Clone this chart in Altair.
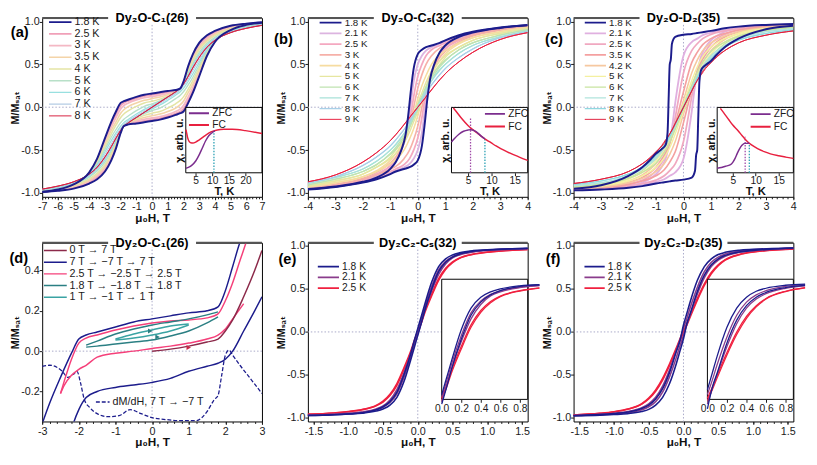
import altair as alt
import pandas as pd

FONT = "Liberation Sans, Arial, DejaVu Sans"
NAVY = "#1c1c8c"
RED = "#e8203f"
PURPLE = "#7b2d8e"
TEAL = "#2aa0b4"
ZC = "#a8a8c8"
W, H = 225, 183
K = H / 186.0

# ---------------- (a) Dy2O-C1(26): descending branches ----------------
A_H = [-7, -6, -5, -4, -3.5, -3, -2.6, -2.3, -2, -1.8, -1.5, -1, -0.5, 0, 0.5, 1, 1.5, 1.8, 2, 2.3, 2.6, 3, 3.5, 4, 5, 6, 7]
A_T = ["1.8 K", "2.5 K", "3 K", "3.5 K", "4 K", "5 K", "6 K", "7 K", "8 K"]
A_COL = [NAVY, "#f0a0b8", "#f4b8c4", "#f4d4a8", "#e4e4a4", "#b8e0c8", "#98e0e0", "#b4cce4", "#d82040"]
A_WID = [2, 1, 1, 1, 1, 1, 1, 1, 2]
A_D = {
    "1.8 K": [-0.985, -0.96, -0.9, -0.76, -0.6, -0.36, -0.17, -0.05, 0.05, 0.07, 0.09, 0.12, 0.145, 0.16, 0.175, 0.19, 0.2, 0.22, 0.3, 0.48, 0.62, 0.75, 0.84, 0.89, 0.95, 0.975, 0.99],
    "2.5 K": [-0.98, -0.955, -0.9, -0.765, -0.61, -0.38, -0.2, -0.08, 0.02, 0.05, 0.075, 0.105, 0.13, 0.145, 0.16, 0.175, 0.19, 0.215, 0.29, 0.46, 0.6, 0.73, 0.82, 0.875, 0.94, 0.97, 0.985],
    "3 K": [-0.975, -0.95, -0.895, -0.765, -0.62, -0.4, -0.23, -0.12, -0.02, 0.02, 0.05, 0.085, 0.11, 0.125, 0.14, 0.16, 0.185, 0.21, 0.285, 0.44, 0.58, 0.71, 0.8, 0.86, 0.93, 0.965, 0.98],
    "3.5 K": [-0.97, -0.945, -0.89, -0.77, -0.63, -0.43, -0.27, -0.17, -0.07, -0.03, 0.01, 0.05, 0.08, 0.1, 0.12, 0.145, 0.18, 0.21, 0.28, 0.42, 0.56, 0.69, 0.785, 0.85, 0.92, 0.96, 0.975],
    "4 K": [-0.97, -0.94, -0.885, -0.77, -0.645, -0.46, -0.31, -0.21, -0.12, -0.08, -0.04, 0.01, 0.05, 0.07, 0.095, 0.13, 0.175, 0.21, 0.28, 0.41, 0.54, 0.67, 0.77, 0.835, 0.91, 0.955, 0.97],
    "5 K": [-0.965, -0.935, -0.88, -0.775, -0.66, -0.49, -0.35, -0.26, -0.18, -0.14, -0.1, -0.04, 0.01, 0.04, 0.075, 0.12, 0.175, 0.215, 0.275, 0.39, 0.51, 0.64, 0.745, 0.815, 0.895, 0.945, 0.965],
    "6 K": [-0.96, -0.93, -0.875, -0.78, -0.675, -0.52, -0.39, -0.3, -0.22, -0.18, -0.14, -0.08, -0.025, 0.02, 0.065, 0.115, 0.175, 0.22, 0.27, 0.38, 0.49, 0.615, 0.725, 0.8, 0.885, 0.935, 0.96],
    "7 K": [-0.958, -0.925, -0.872, -0.78, -0.69, -0.55, -0.43, -0.33, -0.25, -0.205, -0.16, -0.1, -0.045, 0.008, 0.06, 0.115, 0.178, 0.222, 0.27, 0.37, 0.475, 0.6, 0.71, 0.79, 0.877, 0.927, 0.957],
    "8 K": [-0.955, -0.92, -0.87, -0.78, -0.7, -0.58, -0.46, -0.36, -0.27, -0.225, -0.18, -0.12, -0.06, 0, 0.06, 0.12, 0.18, 0.225, 0.27, 0.36, 0.46, 0.58, 0.7, 0.78, 0.87, 0.92, 0.955],
}
IA_FC_T = [2.05, 2.3, 2.6, 3, 3.5, 4.2, 5, 6, 7.6, 9.6, 11.5, 13.4, 16, 20, 25]
IA_FC_X = [0.66, 0.6, 0.53, 0.48, 0.46, 0.455, 0.47, 0.5, 0.56, 0.625, 0.655, 0.665, 0.665, 0.645, 0.6]
IA_ZFC_T = [2.05, 2.6, 3.7, 5, 6, 7, 8, 9, 10, 10.8]
IA_ZFC_X = [0.07, 0.08, 0.11, 0.18, 0.27, 0.38, 0.49, 0.57, 0.615, 0.64]
IA_MARK_T = [10.5]
IA_MARK_TOP = [0.64]
IA_MARK_C = [TEAL]

# ---------------- (b) Dy2O-Cs(32) ----------------
B_H = [-4, -3, -2, -1.5, -1, -0.8, -0.6, -0.45, -0.35, -0.25, -0.15, 0, 0.15, 0.3, 0.5, 0.8, 1, 1.5, 2, 3, 4]
B_T = ["1.8 K", "2.1 K", "2.5 K", "3 K", "4 K", "5 K", "6 K", "7 K", "8 K", "9 K"]
B_COL = [NAVY, "#dcb4e0", "#f4a8c0", "#f6b0a8", "#f6dca0", "#e6e6a0", "#bfe3b0", "#a8e2d8", "#a8d0e8", RED]
B_WID = [2, 1, 1, 1, 1, 1, 1, 1, 1, 2]
B_D = {
    "1.8 K": [-0.955, -0.925, -0.87, -0.82, -0.72, -0.64, -0.5, -0.33, -0.1, 0.2, 0.45, 0.62, 0.67, 0.7, 0.72, 0.75, 0.78, 0.84, 0.88, 0.93, 0.96],
    "2.1 K": [-0.95, -0.92, -0.86, -0.8, -0.7, -0.62, -0.5, -0.36, -0.2, 0.05, 0.3, 0.5, 0.6, 0.66, 0.7, 0.74, 0.77, 0.83, 0.87, 0.92, 0.955],
    "2.5 K": [-0.945, -0.91, -0.85, -0.78, -0.68, -0.6, -0.49, -0.37, -0.25, -0.08, 0.12, 0.36, 0.5, 0.6, 0.67, 0.72, 0.75, 0.82, 0.86, 0.91, 0.95],
    "3 K": [-0.94, -0.9, -0.83, -0.76, -0.65, -0.58, -0.47, -0.37, -0.27, -0.15, 0.0, 0.22, 0.38, 0.5, 0.6, 0.69, 0.72, 0.79, 0.84, 0.9, 0.94],
    "4 K": [-0.93, -0.88, -0.81, -0.74, -0.62, -0.54, -0.44, -0.35, -0.27, -0.18, -0.08, 0.1, 0.25, 0.37, 0.5, 0.61, 0.66, 0.75, 0.81, 0.88, 0.93],
    "5 K": [-0.92, -0.86, -0.78, -0.7, -0.58, -0.5, -0.41, -0.33, -0.26, -0.19, -0.11, 0.05, 0.17, 0.29, 0.42, 0.54, 0.6, 0.7, 0.78, 0.86, 0.92],
    "6 K": [-0.905, -0.84, -0.75, -0.67, -0.54, -0.47, -0.38, -0.31, -0.24, -0.18, -0.11, 0.03, 0.13, 0.24, 0.36, 0.49, 0.55, 0.67, 0.75, 0.84, 0.905],
    "7 K": [-0.89, -0.82, -0.72, -0.63, -0.5, -0.43, -0.35, -0.28, -0.22, -0.17, -0.1, 0.01, 0.1, 0.2, 0.31, 0.44, 0.5, 0.63, 0.72, 0.82, 0.89],
    "8 K": [-0.88, -0.81, -0.68, -0.58, -0.45, -0.38, -0.3, -0.24, -0.19, -0.14, -0.08, 0.0, 0.08, 0.16, 0.26, 0.38, 0.45, 0.58, 0.68, 0.81, 0.88],
    "9 K": [-0.87, -0.79, -0.64, -0.53, -0.39, -0.32, -0.245, -0.185, -0.145, -0.1, -0.06, 0, 0.06, 0.12, 0.2, 0.32, 0.39, 0.53, 0.64, 0.79, 0.87],
}
IB_FC_T = [1.8, 2.5, 3.6, 5, 6, 7.1, 8, 9, 9.9, 11, 12, 13.4, 15, 16, 17.8]
IB_FC_X = [0.99, 0.93, 0.83, 0.72, 0.66, 0.6, 0.55, 0.5, 0.46, 0.41, 0.37, 0.32, 0.27, 0.24, 0.19]
IB_ZFC_T = [1.4, 2, 3, 4, 5, 5.5, 6.4, 7.2, 7.8, 8.6]
IB_ZFC_X = [0.47, 0.52, 0.59, 0.635, 0.655, 0.66, 0.64, 0.6, 0.56, 0.52]
IB_MARK_T = [5.5, 8.6]
IB_MARK_TOP = [0.83, 0.52]
IB_MARK_C = ["#a04aa8", TEAL]

# ---------------- (c) Dy2O-D2(35) ----------------
C_H = [-4, -3, -2, -1.5, -1.2, -1, -0.8, -0.65, -0.58, -0.54, -0.5, -0.46, -0.42, -0.3, 0, 0.3, 0.5, 0.7, 1, 1.5, 2, 3, 4]
C_T = ["1.8 K", "2.1 K", "2.5 K", "3.5 K", "4.2 K", "5 K", "6 K", "7 K", "8 K", "9 K"]
C_COL = [NAVY, "#e0b0e0", "#f0a8c0", "#f4a0a0", "#f6c8a0", "#f4f0a0", "#c8e4a0", "#b0e4dc", "#90d8e0", "#e01f3c"]
C_WID = [2, 1, 1, 1, 1, 1, 1, 1, 1, 2]
C_D = {
    "1.8 K": [-0.95, -0.91, -0.8, -0.7, -0.61, -0.54, -0.49, -0.44, -0.3, 0.1, 0.5, 0.56, 0.74, 0.82, 0.845, 0.855, 0.865, 0.875, 0.89, 0.92, 0.94, 0.96, 0.97],
    "2.1 K": [-0.965, -0.95, -0.92, -0.88, -0.83, -0.78, -0.7, -0.6, -0.52, -0.46, -0.4, -0.33, -0.25, 0.05, 0.6, 0.76, 0.8, 0.84, 0.87, 0.9, 0.925, 0.955, 0.965],
    "2.5 K": [-0.96, -0.94, -0.9, -0.85, -0.8, -0.74, -0.65, -0.56, -0.5, -0.46, -0.42, -0.37, -0.32, -0.12, 0.4, 0.66, 0.74, 0.8, 0.85, 0.89, 0.92, 0.95, 0.96],
    "3.5 K": [-0.955, -0.93, -0.88, -0.82, -0.76, -0.7, -0.61, -0.53, -0.48, -0.45, -0.42, -0.38, -0.34, -0.2, 0.18, 0.52, 0.64, 0.73, 0.8, 0.86, 0.9, 0.94, 0.955],
    "4.2 K": [-0.95, -0.92, -0.86, -0.79, -0.72, -0.66, -0.57, -0.49, -0.45, -0.42, -0.39, -0.36, -0.33, -0.22, 0.08, 0.4, 0.55, 0.66, 0.75, 0.83, 0.88, 0.93, 0.95],
    "5 K": [-0.94, -0.91, -0.84, -0.76, -0.69, -0.62, -0.54, -0.46, -0.42, -0.4, -0.37, -0.34, -0.31, -0.22, 0.04, 0.31, 0.47, 0.59, 0.7, 0.8, 0.86, 0.92, 0.94],
    "6 K": [-0.93, -0.895, -0.82, -0.74, -0.66, -0.6, -0.51, -0.44, -0.4, -0.38, -0.36, -0.33, -0.3, -0.21, 0.02, 0.26, 0.41, 0.53, 0.65, 0.76, 0.83, 0.9, 0.93],
    "7 K": [-0.915, -0.88, -0.8, -0.72, -0.64, -0.58, -0.49, -0.42, -0.39, -0.37, -0.35, -0.32, -0.29, -0.205, 0.01, 0.22, 0.36, 0.48, 0.6, 0.72, 0.8, 0.88, 0.915],
    "8 K": [-0.9, -0.86, -0.78, -0.7, -0.63, -0.56, -0.49, -0.42, -0.39, -0.365, -0.34, -0.315, -0.29, -0.2, 0.0, 0.2, 0.33, 0.44, 0.56, 0.7, 0.78, 0.86, 0.9],
    "9 K": [-0.89, -0.84, -0.75, -0.66, -0.59, -0.52, -0.45, -0.38, -0.35, -0.33, -0.31, -0.29, -0.27, -0.19, 0, 0.19, 0.31, 0.42, 0.52, 0.66, 0.75, 0.84, 0.89],
}
IC_FC_T = [2.3, 3, 4.1, 5, 6.2, 7, 8, 9, 10.4, 12, 13.2, 15, 16.5, 18.2]
IC_FC_X = [0.985, 0.92, 0.815, 0.73, 0.64, 0.57, 0.49, 0.43, 0.37, 0.32, 0.29, 0.26, 0.24, 0.22]
IC_ZFC_T = [1.6, 2.5, 3.4, 4.4, 5, 5.5, 6, 6.5, 7, 7.6, 8, 8.6]
IC_ZFC_X = [0.07, 0.08, 0.1, 0.12, 0.16, 0.22, 0.3, 0.37, 0.42, 0.45, 0.45, 0.455]
IC_MARK_T = [7.7, 8.6]
IC_MARK_TOP = [0.55, 0.455]
IC_MARK_C = ["#a04aa8", TEAL]

# ---------------- (d) minor loops of Dy2O-C1(26) ----------------
D_LAB = ["0 T \u2192 7 T", "7 T \u2192 \u22127 T \u2192 7 T", "2.5 T \u2192 \u22122.5 T \u2192 2.5 T",
         "1.8 T \u2192 \u22121.8 T \u2192 1.8 T", "1 T \u2192 \u22121 T \u2192 1 T"]
D_COL = ["#8c2a4a", NAVY, "#f5407a", "#2b7f83", "#3aa3a3"]
VIRGIN_H = [0, 0.5, 1, 1.5, 1.8, 2, 2.2, 2.5, 2.8, 3.0]
VIRGIN_M = [0, 0.01, 0.025, 0.045, 0.06, 0.1, 0.155, 0.27, 0.4, 0.5]
MAJ_DN_H = [3, 2.6, 2.4, 2.2, 2.0, 1.8, 1.5, 1, 0.5, 0, -0.5, -1, -1.5, -1.8, -2.0, -2.2, -2.5, -2.8, -3.0]
MAJ_DN_M = [0.75, 0.62, 0.54, 0.42, 0.3, 0.22, 0.2, 0.19, 0.175, 0.16, 0.145, 0.12, 0.095, 0.08, 0.06, -0.01, -0.13, -0.26, -0.36]
MAJ_UP_H = [-2.4, -2.15, -2.0, -1.8, -1.5, -1, -0.5, 0, 0.5, 1, 1.5, 1.8, 2.0, 2.2, 2.5, 2.8, 3.0]
MAJ_UP_M = [-0.56, -0.36, -0.29, -0.23, -0.2, -0.18, -0.168, -0.155, -0.135, -0.1, -0.075, -0.06, -0.04, 0.0, 0.1, 0.2, 0.27]
P25_DN_H = [2.7, 2.55, 2.4, 2.2, 2.0, 1.8, 1.5, 1, 0.5, 0, -0.5, -1, -1.5, -1.8, -2.0, -2.2, -2.4, -2.5]
P25_DN_M = [0.62, 0.53, 0.45, 0.34, 0.25, 0.185, 0.165, 0.155, 0.15, 0.14, 0.125, 0.105, 0.08, 0.065, 0.04, -0.04, -0.15, -0.21]
P25_UP_H = [-2.5, -2.4, -2.2, -2.0, -1.8, -1.5, -1, -0.5, 0, 0.5, 1, 1.5, 1.8, 2.0, 2.2, 2.5]
P25_UP_M = [-0.21, -0.17, -0.12, -0.09, -0.07, -0.03, -0.01, 0.0, 0.013, 0.025, 0.04, 0.06, 0.08, 0.11, 0.16, 0.235]
T18_DN_H = [1.8, 1.5, 1, 0.5, 0, -0.5, -1, -1.5, -1.8]
T18_DN_M = [0.195, 0.18, 0.16, 0.145, 0.13, 0.11, 0.085, 0.05, 0.03]
T18_UP_H = [-1.8, -1.5, -1, -0.5, 0, 0.5, 1, 1.5, 1.8]
T18_UP_M = [0.02, 0.025, 0.035, 0.045, 0.055, 0.075, 0.1, 0.14, 0.17]
T1_DN_H = [1, 0.5, 0, -0.5, -1]
T1_DN_M = [0.135, 0.125, 0.105, 0.085, 0.06]
T1_UP_H = [-1, -0.5, 0, 0.5, 1]
T1_UP_M = [0.055, 0.065, 0.08, 0.1, 0.13]
DMDH_LAB = "dM/dH, 7 T \u2192 \u22127 T"
DMDH_H = [-3, -2.8, -2.6, -2.45, -2.3, -2.15, -2.05, -1.95, -1.85, -1.7, -1.5, -1.2, -0.9, -0.6, -0.3, 0, 0.4, 0.8, 1.2, 1.5, 1.7, 1.8, 1.9, 2.0, 2.1, 2.2, 2.4, 2.7, 3.0]
DMDH_M = [-0.075, -0.07, -0.08, -0.1, -0.13, -0.115, -0.1, -0.16, -0.24, -0.28, -0.31, -0.325, -0.32, -0.29, -0.31, -0.33, -0.34, -0.345, -0.345, -0.3, -0.24, -0.22, -0.12, -0.02, 0.005, -0.02, -0.07, -0.14, -0.21]
ARROW_H = [1.0, -0.05, 0.15]
ARROW_M = [0.018, 0.1, 0.07]
ARROW_C = ["#c82848", "#2b7f83", "#2b7f83"]

# ---------------- (e) Dy2C2-Cs(32), (f) Dy2C2-D2(35): upper/lower branches for H >= 0 ----------------
EF_T = ["1.8 K", "2.1 K", "2.5 K"]
EF_COL = [NAVY, "#8a3c8c", "#f0203f"]
EF_H = [0, 0.05, 0.1, 0.2, 0.3, 0.4, 0.5, 0.6, 0.8, 1.0, 1.2, 1.6]
E_UP = {
    "1.8 K": [0.04, 0.18, 0.32, 0.58, 0.76, 0.85, 0.895, 0.92, 0.945, 0.955, 0.963, 0.972],
    "2.1 K": [0.02, 0.15, 0.29, 0.53, 0.72, 0.82, 0.875, 0.905, 0.935, 0.95, 0.958, 0.968],
    "2.5 K": [0.01, 0.12, 0.24, 0.44, 0.62, 0.74, 0.815, 0.86, 0.905, 0.928, 0.942, 0.958],
}
E_LO = {
    "1.8 K": [-0.04, 0.1, 0.25, 0.5, 0.7, 0.81, 0.87, 0.905, 0.94, 0.953, 0.962, 0.972],
    "2.1 K": [-0.02, 0.11, 0.25, 0.48, 0.67, 0.79, 0.86, 0.895, 0.93, 0.947, 0.956, 0.968],
    "2.5 K": [-0.01, 0.1, 0.22, 0.42, 0.6, 0.725, 0.805, 0.855, 0.902, 0.926, 0.942, 0.958],
}
F_UP = {
    "1.8 K": [0.08, 0.22, 0.36, 0.6, 0.76, 0.85, 0.9, 0.925, 0.95, 0.96, 0.967, 0.975],
    "2.1 K": [0.04, 0.16, 0.29, 0.52, 0.7, 0.81, 0.87, 0.905, 0.94, 0.955, 0.963, 0.972],
    "2.5 K": [0.01, 0.1, 0.2, 0.39, 0.56, 0.69, 0.78, 0.84, 0.9, 0.93, 0.947, 0.965],
}
F_LO = {
    "1.8 K": [-0.08, 0.1, 0.22, 0.47, 0.66, 0.78, 0.85, 0.89, 0.93, 0.948, 0.96, 0.975],
    "2.1 K": [-0.04, 0.09, 0.21, 0.44, 0.63, 0.76, 0.835, 0.88, 0.925, 0.945, 0.957, 0.972],
    "2.5 K": [-0.01, 0.08, 0.18, 0.37, 0.54, 0.675, 0.77, 0.835, 0.897, 0.928, 0.946, 0.965],
}

# ---------------- helpers ----------------
ONE = pd.DataFrame({"z": [0]})
MINUS = "\u2212"


def sc(dom, rng=None):
    if rng is None:
        return alt.Scale(domain=dom, nice=False, zero=False)
    return alt.Scale(domain=dom, range=rng, nice=False, zero=False)


def lexpr(fmt):
    return "replace(format(datum.value, '" + fmt + "'), '" + MINUS + "', '-')"


def ax_x(values, fmt):
    return alt.Axis(orient="bottom", values=values, labelExpr=lexpr(fmt), title="\u03bc\u2080H, T",
                    tickSize=3, domain=False, grid=False, labelFontSize=11, labelPadding=1,
                    titleFontSize=12, titleFontWeight="bold", titlePadding=1, labelFlush=False)


def ax_y(values, fmt):
    return alt.Axis(orient="left", values=values, labelExpr=lexpr(fmt), title="M/M\u209b\u2090\u209c",
                    tickSize=3, domain=False, grid=False, labelFontSize=11, labelPadding=0,
                    titleFontSize=11, titleFontWeight="bold", titlePadding=0)


def ax_minor(orient, values):
    return alt.Axis(orient=orient, values=values, labels=False, tickSize=2, domain=False,
                    grid=False, title=None)


def sym_legend(x, y, rowh, size, fs=11):
    return alt.Legend(orient="none", legendX=x, legendY=y, title=None, symbolType="stroke",
                      symbolSize=size, symbolStrokeWidth=2, labelFontSize=fs, labelOffset=2,
                      clipHeight=rowh, rowPadding=0, padding=0, labelLimit=300)


def loop_df(hgrid, order, curves):
    rows = []
    for lab in order:
        for h, m in zip(hgrid, curves[lab]):
            rows.append({"H": h, "M": m, "T": lab, "br": lab + " d"})
        for h, m in zip(hgrid, curves[lab]):
            rows.append({"H": -h, "M": -m, "T": lab, "br": lab + " a"})
    return pd.DataFrame(rows)


def ef_df(order, up, lo):
    rows = []
    for lab in order:
        for h, u, l in zip(EF_H, up[lab], lo[lab]):
            rows.append({"H": h, "M": u, "T": lab, "br": lab + " d"})
            rows.append({"H": -h, "M": -l, "T": lab, "br": lab + " d"})
            rows.append({"H": h, "M": l, "T": lab, "br": lab + " a"})
            rows.append({"H": -h, "M": -u, "T": lab, "br": lab + " a"})
    return pd.DataFrame(rows).drop_duplicates(subset=["H", "br"])


def zero_layers(xdom, ydom, xminor):
    v = alt.Chart(ONE).mark_rule(color=ZC, strokeDash=[1.5, 2], strokeWidth=1).encode(
        x=alt.XDatum(0, type="quantitative", scale=sc(xdom), axis=ax_minor("bottom", xminor)))
    h = alt.Chart(ONE).mark_rule(color=ZC, strokeDash=[1.5, 2], strokeWidth=1).encode(
        y=alt.YDatum(0, type="quantitative", scale=sc(ydom), axis=None))
    return [v, h]


def lines_layer(df, xdom, ydom, xt, xf, yt, yf, tdom, cols, wids, legend):
    return alt.Chart(df).mark_line(interpolate="monotone", clip=True).encode(
        x=alt.X("H:Q", scale=sc(xdom), axis=ax_x(xt, xf)),
        y=alt.Y("M:Q", scale=sc(ydom), axis=ax_y(yt, yf)),
        color=alt.Color("T:N", scale=alt.Scale(domain=tdom, range=cols), legend=legend),
        strokeWidth=alt.StrokeWidth("T:N", scale=alt.Scale(domain=tdom, range=wids), legend=None),
        detail="br:N",
    )


def deco_layers(title, letter, lx, ly):
    top = alt.Chart(ONE).mark_rule(color="#555555", strokeWidth=2).encode(
        x=alt.value(0), x2=alt.value(W), y=alt.value(0))
    gap = alt.Chart(ONE).mark_rect(color="white").encode(
        x=alt.value(W / 2 - 45), x2=alt.value(W / 2 + 45), y=alt.value(-6), y2=alt.value(5))
    ttl = alt.Chart(ONE).mark_text(text=title, fontSize=13, fontWeight="bold", font=FONT,
                                   baseline="middle").encode(x=alt.value(W / 2), y=alt.value(0))
    let = alt.Chart(ONE).mark_text(text=letter, fontSize=15, fontWeight="bold", font=FONT,
                                   baseline="middle").encode(x=alt.value(lx), y=alt.value(ly))
    return [top, gap, ttl, let]


def chi_inset(xdom, xticks, fc_t, fc_x, zfc_t, zfc_x, mk_t, mk_top, mk_c, lx, ly, rowh):
    xr = [W - 78, W]
    yd, yr = [0, 1], [161 * K, 93 * K]
    frame = alt.Chart(ONE).mark_rect(fill="white", stroke="black", strokeWidth=1).encode(
        x=alt.XDatum(xdom[0], type="quantitative", scale=sc(xdom, xr),
                     axis=alt.Axis(orient="bottom", offset=161 * K - H, values=xticks, format="d",
                                   title="T, K", titleFontWeight="bold", titleFontSize=11.5,
                                   titlePadding=0, labelPadding=0, labelFontSize=10.5, tickSize=3,
                                   labelOverlap=False, domain=False, grid=False)),
        x2=alt.X2Datum(xdom[1]),
        y=alt.YDatum(yd[0], type="quantitative", scale=sc(yd, yr),
                     axis=alt.Axis(orient="left", offset=-xr[0], labels=False, ticks=False,
                                   domain=False, grid=False, title="\u03c7, arb. u.",
                                   titleFontWeight="bold", titleFontSize=11, titlePadding=1)),
        y2=alt.Y2Datum(yd[1]),
    )
    rows = [{"T": t, "X": v, "k": "FC"} for t, v in zip(fc_t, fc_x)]
    rows += [{"T": t, "X": v, "k": "ZFC"} for t, v in zip(zfc_t, zfc_x)]
    curves = alt.Chart(pd.DataFrame(rows)).mark_line(interpolate="monotone", strokeWidth=1.5).encode(
        x=alt.X("T:Q", scale=sc(xdom, xr), axis=None),
        y=alt.Y("X:Q", scale=sc(yd, yr), axis=None),
        color=alt.Color("k:N", scale=alt.Scale(domain=["ZFC", "FC"], range=[PURPLE, RED]),
                        legend=sym_legend(lx, ly * K, rowh, 420, 10.5)),
        detail="k:N",
    )
    mk = pd.DataFrame({"T": mk_t, "y0": [0] * len(mk_t), "y1": mk_top, "c": mk_c})
    marks = alt.Chart(mk).mark_rule(strokeDash=[1.5, 1.5], strokeWidth=1.3).encode(
        x=alt.X("T:Q", scale=sc(xdom, xr), axis=None),
        y=alt.Y("y0:Q", scale=sc(yd, yr), axis=None),
        y2="y1:Q",
        color=alt.Color("c:N", scale=None),
    )
    return [frame, marks, curves]


def ef_inset(df):
    xdom, xr, yd, yr = [0, 0.88], [W - 88, W], [0, 1], [163 * K, 38 * K]
    frame = alt.Chart(ONE).mark_rect(fill="white", stroke="black", strokeWidth=1).encode(
        x=alt.XDatum(0, type="quantitative", scale=sc(xdom, xr),
                     axis=alt.Axis(orient="bottom", offset=163 * K - H, values=[0, 0.2, 0.4, 0.6, 0.8],
                                   format=".1f", title=None, labelPadding=1, labelFontSize=10.5,
                                   labelOverlap=False, labelFlush=False,
                                   tickSize=3, domain=False, grid=False)),
        x2=alt.X2Datum(xdom[1]),
        y=alt.YDatum(0, type="quantitative", scale=sc(yd, yr), axis=None),
        y2=alt.Y2Datum(1),
    )
    lines = alt.Chart(df).transform_filter("datum.H >= 0 && datum.H <= 1").mark_line(
        interpolate="monotone", strokeWidth=1.3).encode(
        x=alt.X("H:Q", scale=sc([0, 0.88], xr), axis=None),
        y=alt.Y("M:Q", scale=sc(yd, yr), axis=None),
        color=alt.Color("T:N", scale=alt.Scale(domain=EF_T, range=EF_COL), legend=None),
        detail="br:N",
    )
    return [frame, lines]


def panel(layers):
    return alt.layer(*layers).resolve_scale(
        x="independent", y="independent", color="independent",
        strokeWidth="independent", strokeDash="independent").properties(width=W, height=H)


YT = [-1.0, -0.5, 0.0, 0.5, 1.0]
YDOM = [-1.045, 1.04]

# ---------- panel a ----------
dfa = loop_df(A_H, A_T[1:8] + ["8 K", "1.8 K"], A_D)
xa = [-7, 7]
pa = panel(zero_layers(xa, YDOM, [round(-7 + 0.2 * i, 2) for i in range(71)])
           + [lines_layer(dfa, xa, YDOM, list(range(-7, 8)), "d", YT, ".1f", A_T, A_COL, A_WID,
                          sym_legend(6, -1.2, 10.7, 529, 11))]
           + chi_inset([2, 25], [5, 10, 15, 20], IA_FC_T, IA_FC_X, IA_ZFC_T, IA_ZFC_X,
                       IA_MARK_T, IA_MARK_TOP, IA_MARK_C, W - 76, 94.3, 9.3)
           + deco_layers("Dy\u2082O-C\u2081(26)", "(a)", -23, 14))

# ---------- panel b ----------
dfb = loop_df(B_H, B_T[1:9] + ["9 K", "1.8 K"], B_D)
xb = [-4, 4]
pb = panel(zero_layers(xb, YDOM, [round(-4 + 0.2 * i, 2) for i in range(41)])
           + [lines_layer(dfb, xb, YDOM, list(range(-4, 5)), "d", YT, ".1f", B_T, B_COL, B_WID,
                          sym_legend(10.7, 0.2, 9.0, 500, 10))]
           + chi_inset([1.4, 17.8], [5, 10, 15], IB_FC_T, IB_FC_X, IB_ZFC_T, IB_ZFC_X,
                       IB_MARK_T, IB_MARK_TOP, IB_MARK_C, W - 45, 93.4, 12.4)
           + deco_layers("Dy\u2082O-C\u209b(32)", "(b)", -25, 22))

# ---------- panel c ----------
dfc = loop_df(C_H, C_T[1:9] + ["9 K", "1.8 K"], C_D)
pc = panel(zero_layers(xb, YDOM, [round(-4 + 0.2 * i, 2) for i in range(41)])
           + [lines_layer(dfc, xb, YDOM, list(range(-4, 5)), "d", YT, ".1f", C_T, C_COL, C_WID,
                          sym_legend(10.3, 0.2, 9.0, 470, 10))]
           + chi_inset([1.6, 18.2], [5, 10, 15], IC_FC_T, IC_FC_X, IC_ZFC_T, IC_ZFC_X,
                       IC_MARK_T, IC_MARK_TOP, IC_MARK_C, W - 45, 93.6, 12.5)
           + deco_layers("Dy\u2082O-D\u2082(35)", "(c)", -20, 22))

# ---------- panel d ----------
rows = []
for lab, br, hs, ms in [
    (D_LAB[1], "maj d", MAJ_DN_H, MAJ_DN_M), (D_LAB[1], "maj a", MAJ_UP_H, MAJ_UP_M),
    (D_LAB[2], "p d", P25_DN_H, P25_DN_M), (D_LAB[2], "p a", P25_UP_H, P25_UP_M),
    (D_LAB[3], "t18 d", T18_DN_H, T18_DN_M), (D_LAB[3], "t18 a", T18_UP_H, T18_UP_M),
    (D_LAB[4], "t1 d", T1_DN_H, T1_DN_M), (D_LAB[4], "t1 a", T1_UP_H, T1_UP_M),
    (D_LAB[0], "v", VIRGIN_H, VIRGIN_M),
]:
    for h, m in zip(hs, ms):
        rows.append({"H": h, "M": m, "T": lab, "br": br})
dfd = pd.DataFrame(rows)
xd, yd = [-3, 3], [-0.349, 0.538]
dmdh = alt.Chart(pd.DataFrame({"H": DMDH_H, "M": DMDH_M, "lab": [DMDH_LAB] * len(DMDH_H)})).mark_line(
    interpolate="monotone", strokeWidth=1.3, color=NAVY, clip=True).encode(
    x=alt.X("H:Q", scale=sc(xd), axis=None),
    y=alt.Y("M:Q", scale=sc(yd), axis=None),
    strokeDash=alt.StrokeDash("lab:N", scale=alt.Scale(domain=[DMDH_LAB], range=[[4, 2]]),
                              legend=alt.Legend(orient="none", legendX=54, legendY=159.7 * K, title=None,
                                                symbolType="stroke", symbolSize=196,
                                                symbolStrokeColor=NAVY, symbolStrokeWidth=1.5,
                                                labelFontSize=11, labelOffset=2, clipHeight=12,
                                                padding=0, labelLimit=300)),
)
arrows = alt.Chart(pd.DataFrame({"H": ARROW_H, "M": ARROW_M, "c": ARROW_C})).mark_point(
    shape="triangle-right", filled=True, size=28, opacity=1).encode(
    x=alt.X("H:Q", scale=sc(xd), axis=None),
    y=alt.Y("M:Q", scale=sc(yd), axis=None),
    color=alt.Color("c:N", scale=None),
)
pdd = panel(zero_layers(xd, yd, [round(-3 + 0.2 * i, 2) for i in range(31)])
            + [dmdh,
               lines_layer(dfd, xd, yd, list(range(-3, 4)), "d", [-0.2, 0.0, 0.2, 0.4], ".1f",
                           D_LAB, D_COL, [1.5, 1.5, 1.5, 1.5, 1.5], sym_legend(1, 1.9, 12.0, 544, 11)),
               arrows]
            + deco_layers("Dy\u2082O-C\u2081(26)", "(d)", -24, 15.7))

# ---------- panels e, f ----------
xe = [-1.58, 1.58]
ye = [-1.041, 1.037]
EF_ORDER = ["2.5 K", "2.1 K", "1.8 K"]
dfe = ef_df(EF_ORDER, E_UP, E_LO)
dff = ef_df(EF_ORDER, F_UP, F_LO)
ef_minor = [round(-1.5 + 0.1 * i, 2) for i in range(31)]
pe = panel(zero_layers(xe, ye, ef_minor)
           + [lines_layer(dfe, xe, ye, [-1.5, -1.0, -0.5, 0.0, 0.5, 1.0, 1.5], ".1f", YT, ".1f",
                          EF_T, EF_COL, [1.6, 1.6, 1.6], sym_legend(9, 19, 11.0, 470, 10.5))]
           + ef_inset(dfe)
           + deco_layers("Dy\u2082C\u2082-C\u209b(32)", "(e)", -21, 17))
pf = panel(zero_layers(xe, ye, ef_minor)
           + [lines_layer(dff, xe, ye, [-1.5, -1.0, -0.5, 0.0, 0.5, 1.0, 1.5], ".1f", YT, ".1f",
                          EF_T, EF_COL, [1.6, 1.6, 1.6], sym_legend(10, 19, 11.0, 430, 10.5))]
           + ef_inset(dff)
           + deco_layers("Dy\u2082C\u2082-D\u2082(35)", "(f)", -21, 17))

chart = alt.concat(pa, pb, pc, pdd, pe, pf, columns=3, spacing={"row": 47, "column": 47},
                   bounds="flush").resolve_scale(
    x="independent", y="independent", color="independent",
    strokeWidth="independent", strokeDash="independent"
).properties(padding={"left": 0, "top": -2, "right": 0, "bottom": 0}).configure_view(
    stroke="black", strokeWidth=1
).configure_axis(
    labelFont=FONT, titleFont=FONT, labelColor="#1a1a1a", tickColor="#1a1a1a", titleColor="#111111"
).configure_legend(labelFont=FONT, labelColor="#1a1a1a").configure_text(font=FONT)

chart.save("out.html", embed_options={"renderer": "svg", "actions": False})
